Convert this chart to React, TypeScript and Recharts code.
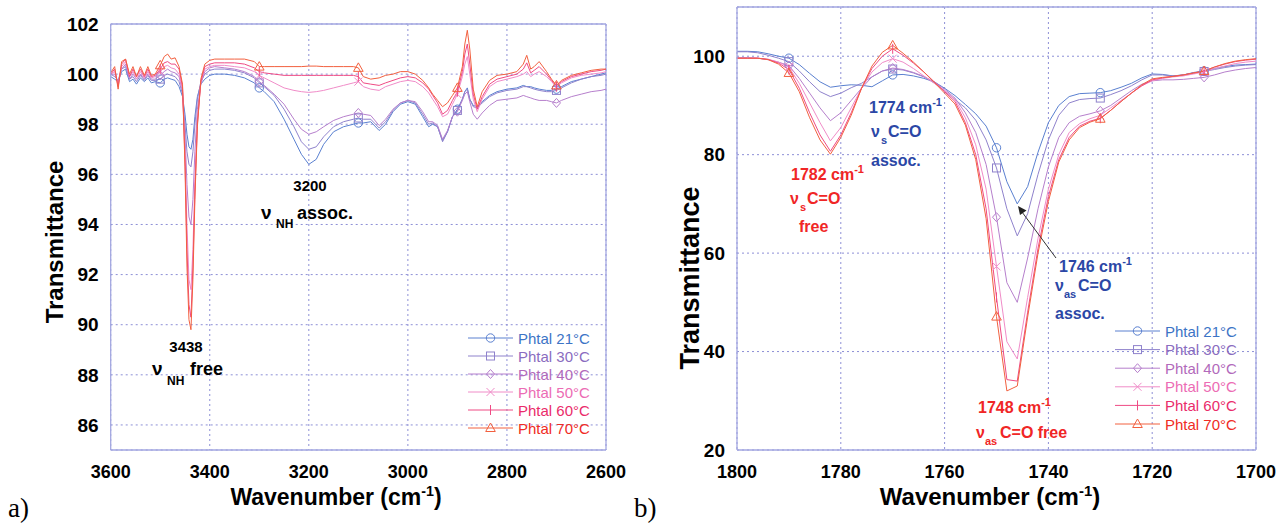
import React from 'react';
import { LineChart, Line, XAxis, YAxis, CartesianGrid, ReferenceLine } from 'recharts';

const FONT = '"Liberation Sans", Arial, Helvetica, sans-serif';
const FRAME = '#a3a7e0';
const GRID = '#8d8fd6';

const seriesKeys = ['s21', 's30', 's40', 's50', 's60', 's70'];
const seriesNames = ['Phtal 21°C', 'Phtal 30°C', 'Phtal 40°C', 'Phtal 50°C', 'Phtal 60°C', 'Phtal 70°C'];
const lineColors = ['#5a80d0', '#8f82cc', '#b67fcc', '#f08cc8', '#ef4a84', '#f2603f'];
const textColors = ['#3c74c6', '#8a6cc0', '#b26abb', '#ec6cb4', '#ea2c6a', '#f02c24'];
const markerShapes = ['circle', 'square', 'diamond', 'cross', 'bar', 'triangle'];

// N-H stretching region (panel a)
const nhWavenumbers = [3600, 3592, 3585, 3578, 3570, 3562, 3555, 3548, 3540, 3532, 3525, 3518, 3510, 3500, 3492, 3485, 3478, 3470, 3462, 3455, 3450, 3446, 3442, 3438, 3434, 3430, 3425, 3418, 3410, 3400, 3390, 3370, 3350, 3330, 3310, 3300, 3290, 3270, 3250, 3230, 3215, 3200, 3185, 3170, 3150, 3130, 3110, 3100, 3090, 3075, 3058, 3045, 3030, 3015, 3000, 2985, 2970, 2958, 2950, 2940, 2930, 2920, 2910, 2900, 2890, 2885, 2880, 2875, 2868, 2860, 2850, 2835, 2820, 2800, 2780, 2767, 2760, 2752, 2745, 2735, 2720, 2710, 2700, 2690, 2670, 2650, 2630, 2610, 2600];
const nh21 = [99.9, 99.8, 99.7, 100.1, 100.2, 99.7, 99.8, 99.6, 99.85, 99.7, 99.85, 99.65, 99.7, 99.65, 99.8, 99.85, 99.8, 99.75, 99.5, 99.1, 98.4, 97.6, 97.1, 97.0, 97.4, 98.3, 99.1, 99.6, 99.8, 99.95, 100.0, 100.0, 99.95, 99.85, 99.65, 99.45, 99.3, 98.9, 98.2, 97.4, 96.8, 96.4, 96.6, 97.2, 97.7, 97.9, 98.0, 98.05, 98.05, 98.1, 97.75, 98.0, 98.5, 98.8, 98.9, 98.8, 98.3, 97.9, 98.0, 97.9, 97.35, 97.7, 98.3, 98.6, 99.0, 99.3, 99.45, 99.0, 98.75, 98.7, 98.9, 99.15, 99.3, 99.4, 99.45, 99.55, 99.5, 99.5, 99.45, 99.4, 99.35, 99.35, 99.4, 99.5, 99.7, 99.8, 99.9, 100.0, 100.05];
const nh30 = [100.0, 99.9, 99.75, 100.2, 100.3, 99.8, 99.9, 99.7, 99.95, 99.75, 99.95, 99.75, 99.75, 99.8, 99.95, 100.0, 99.95, 99.9, 99.7, 99.2, 98.0, 96.9, 96.4, 96.3, 96.9, 98.0, 99.0, 99.7, 100.0, 100.15, 100.2, 100.2, 100.15, 100.05, 99.85, 99.65, 99.5, 99.15, 98.6, 97.9, 97.3, 97.0, 97.1, 97.5, 97.9, 98.1, 98.2, 98.25, 98.2, 98.2, 97.85, 98.1, 98.55, 98.85, 98.95, 98.85, 98.4, 98.0, 98.05, 97.9, 97.3, 97.7, 98.3, 98.55, 99.0, 99.3, 99.4, 99.0, 98.7, 98.65, 98.85, 99.1, 99.25, 99.35, 99.4, 99.5, 99.5, 99.45, 99.4, 99.35, 99.3, 99.3, 99.35, 99.45, 99.65, 99.8, 99.9, 99.95, 100.0];
const nh40 = [100.0, 100.0, 99.7, 100.2, 100.4, 99.8, 100.0, 99.8, 100.0, 99.8, 100.0, 99.8, 99.8, 99.95, 100.1, 100.2, 100.1, 100.05, 99.9, 99.3, 97.6, 95.6, 94.3, 94.0, 95.0, 96.9, 98.6, 99.6, 100.1, 100.25, 100.3, 100.25, 100.2, 100.1, 99.9, 99.7, 99.55, 99.2, 98.8, 98.2, 97.8, 97.6, 97.7, 97.9, 98.15, 98.3, 98.4, 98.45, 98.4, 98.35, 97.95, 98.2, 98.6, 98.85, 98.95, 98.9, 98.5, 98.1, 98.1, 97.95, 97.4, 97.75, 98.3, 98.5, 98.95, 99.2, 99.3, 98.9, 98.4, 98.2, 98.45, 98.75, 98.95, 99.0, 99.05, 99.15, 99.1, 99.05, 99.0, 98.95, 98.95, 98.9, 98.85, 98.95, 99.1, 99.2, 99.3, 99.35, 99.4];
const nh50 = [100.0, 100.1, 99.6, 100.3, 100.5, 99.9, 100.1, 99.8, 100.1, 99.85, 100.1, 99.85, 99.9, 100.1, 100.3, 100.35, 100.25, 100.2, 100.0, 99.4, 97.0, 94.0, 91.8, 91.4, 93.0, 95.8, 98.2, 99.7, 100.2, 100.3, 100.35, 100.35, 100.3, 100.25, 100.1, 99.95, 99.85, 99.65, 99.45, 99.35, 99.3, 99.27, 99.3, 99.35, 99.45, 99.55, 99.65, 99.7, 99.5, 99.4, 99.35, 99.5, 99.6, 99.7, 99.75, 99.7, 99.5, 99.25, 99.0, 98.7, 98.3, 98.4, 98.8, 99.2, 99.9, 100.4, 100.7, 100.0, 99.0, 98.5, 99.0, 99.5, 99.7, 99.8, 99.9, 100.0, 100.1, 99.9, 100.0, 100.1, 99.9, 99.7, 99.5, 99.65, 99.85, 99.95, 100.0, 100.05, 100.1];
const nh60 = [100.0, 100.2, 99.5, 100.4, 100.6, 99.9, 100.2, 99.9, 100.2, 99.9, 100.2, 99.9, 99.95, 100.2, 100.45, 100.5, 100.4, 100.4, 100.2, 99.5, 96.6, 93.0, 90.8, 90.3, 92.3, 95.3, 98.0, 99.7, 100.3, 100.4, 100.45, 100.45, 100.45, 100.4, 100.25, 100.1, 100.05, 100.0, 99.95, 99.95, 99.95, 99.95, 99.95, 99.95, 99.95, 99.95, 99.95, 99.9, 99.65, 99.6, 99.55, 99.65, 99.75, 99.85, 99.9, 99.85, 99.65, 99.4, 99.15, 98.85, 98.4, 98.55, 98.95, 99.3, 100.1, 100.8, 101.2, 100.4, 99.2, 98.6, 99.1, 99.6, 99.8, 99.9, 100.0, 100.2, 100.45, 100.05, 100.15, 100.3, 100.0, 99.75, 99.5, 99.7, 99.9, 100.0, 100.1, 100.15, 100.2];
const nh70 = [100.05, 100.3, 99.4, 100.5, 100.6, 100.0, 100.3, 99.9, 100.3, 99.95, 100.3, 99.95, 100.0, 100.35, 100.7, 100.8, 100.6, 100.65, 100.3, 99.6, 96.3, 92.3, 90.2, 89.8, 91.8, 95.0, 97.9, 99.8, 100.4, 100.55, 100.6, 100.6, 100.6, 100.6, 100.5, 100.3, 100.3, 100.3, 100.3, 100.3, 100.3, 100.32, 100.32, 100.3, 100.3, 100.3, 100.3, 100.25, 99.9, 99.8, 99.85, 99.95, 100.0, 100.1, 100.1, 100.0, 99.75, 99.45, 99.2, 98.95, 98.7, 98.85, 99.15, 99.45, 100.3, 101.2, 101.75, 101.0, 99.4, 98.7, 99.3, 99.75, 99.95, 100.0, 100.1, 100.4, 100.75, 100.2, 100.3, 100.5, 100.1, 99.8, 99.55, 99.75, 99.95, 100.05, 100.15, 100.2, 100.2];
const nhTicksX = [3600, 3400, 3200, 3000, 2800, 2600];
const nhTicksY = [86, 88, 90, 92, 94, 96, 98, 100, 102];
const nhMarkerPositions = [3500, 3300, 3100, 2900, 2700];

// C=O stretching region (panel b)
const coWavenumbers = [1800, 1798, 1796, 1794, 1792, 1790, 1788, 1786, 1784, 1782, 1780, 1778, 1776, 1774, 1772, 1770, 1768, 1766, 1764, 1762, 1760, 1758, 1756, 1754, 1752, 1750, 1748, 1746, 1744, 1742, 1740, 1738, 1736, 1734, 1732, 1730, 1728, 1726, 1724, 1722, 1720, 1718, 1716, 1714, 1712, 1710, 1708, 1706, 1704, 1702, 1700];
const co21 = [101.0, 101.0, 100.9, 100.5, 100.0, 99.6, 98.3, 96.5, 94.8, 93.7, 94.0, 94.2, 94.1, 93.8, 95.0, 96.2, 96.3, 96.0, 95.5, 94.8, 93.5, 92.0, 90.2, 88.3, 85.8, 81.4, 74.5, 70.0, 73.5, 80.5, 86.5, 90.0, 91.8, 92.4, 92.5, 92.6, 93.0, 93.7, 94.5, 95.6, 96.4, 96.3, 96.0, 96.2, 96.7, 97.0, 97.5, 97.9, 98.2, 98.3, 98.4];
const co30 = [100.9, 100.9, 100.7, 100.2, 99.6, 98.9, 97.0, 94.8, 92.8, 91.8, 92.5, 93.6, 94.5, 95.8, 97.0, 97.4, 97.2, 96.6, 95.8, 94.6, 93.0, 91.2, 89.5, 87.0, 83.0, 77.3, 69.0, 63.5, 68.0, 76.0, 83.0, 88.0, 90.5, 91.2, 91.4, 91.5, 92.2, 93.0, 94.0, 95.2, 96.2, 96.2, 96.0, 96.2, 96.6, 96.9, 97.3, 97.7, 98.0, 98.2, 98.3];
const co40 = [99.7, 99.7, 99.6, 99.3, 98.8, 98.1, 95.5, 92.5, 89.5, 86.9, 88.5, 91.0, 93.5, 95.8, 97.0, 97.6, 97.3, 96.7, 95.9, 94.8, 93.3, 91.5, 88.5, 84.5, 78.0, 67.3, 54.0, 50.0, 59.0, 69.0, 77.5, 83.5, 86.5, 87.8, 88.3, 88.9, 90.0, 91.5, 93.0, 94.3, 95.0, 95.2, 95.2, 95.3, 95.5, 95.7, 96.2, 96.8, 97.2, 97.5, 97.7];
const co50 = [99.6, 99.6, 99.6, 99.4, 98.8, 97.8, 94.5, 90.5, 86.5, 82.8, 85.5, 89.5, 93.5, 96.8, 98.7, 99.5, 98.8, 97.5, 96.0, 94.5, 93.0, 91.2, 87.5, 82.0, 73.0, 57.3, 42.0, 38.5, 51.0, 63.0, 73.0, 80.0, 84.5, 86.3, 87.3, 88.0, 89.5, 91.0, 92.5, 94.0, 95.0, 95.5, 95.8, 96.0, 96.4, 96.8, 97.5, 98.0, 98.5, 98.8, 99.0];
const co60 = [99.6, 99.6, 99.6, 99.35, 98.6, 97.3, 93.5, 88.5, 84.0, 80.7, 84.0, 88.5, 93.5, 97.5, 100.0, 101.5, 100.2, 98.6, 96.8, 94.8, 92.8, 90.8, 86.5, 80.0, 69.0, 51.0, 34.3, 34.0, 48.0, 61.0, 71.5, 79.0, 83.5, 85.8, 86.8, 87.4, 89.0, 90.8, 92.5, 94.0, 95.2, 95.6, 95.9, 96.2, 96.6, 97.0, 97.8, 98.4, 98.9, 99.2, 99.4];
const co70 = [99.6, 99.6, 99.6, 99.3, 98.4, 96.6, 92.8, 87.5, 83.0, 80.1, 83.5, 88.0, 93.5, 98.0, 100.8, 102.2, 100.6, 98.8, 96.8, 94.7, 92.5, 90.3, 86.0, 79.0, 67.0, 47.1, 32.0, 33.0, 47.0, 60.0, 70.5, 78.5, 83.0, 85.5, 86.6, 87.3, 89.0, 90.8, 92.5, 94.2, 95.4, 95.7, 95.9, 96.2, 96.6, 97.0, 97.8, 98.5, 99.0, 99.3, 99.5];
const coTicksX = [1800, 1780, 1760, 1740, 1720, 1700];
const coTicksY = [20, 40, 60, 80, 100];
const coMarkerPositions = [1790, 1770, 1750, 1730, 1710];

type Row = { w: number; [k: string]: number };

function buildRows(wavenumbers: number[], cols: number[][]): Row[] {
  return wavenumbers.map((w, i) => {
    const r: Row = { w };
    seriesKeys.forEach((k, j) => {
      r[k] = cols[j][i];
    });
    return r;
  });
}

const nhRows = buildRows(nhWavenumbers, [nh21, nh30, nh40, nh50, nh60, nh70]);
const coRows = buildRows(coWavenumbers, [co21, co30, co40, co50, co60, co70]);

function Marker({ shape, x, y, color }: { shape: string; x: number; y: number; color: string }) {
  const p = { fill: 'none', stroke: color, strokeWidth: 1 };
  switch (shape) {
    case 'circle':
      return <circle cx={x} cy={y} r={4.2} {...p} />;
    case 'square':
      return <rect x={x - 4} y={y - 4} width={8} height={8} {...p} />;
    case 'diamond':
      return <path d={`M${x},${y - 4.5}L${x + 4},${y}L${x},${y + 4.5}L${x - 4},${y}Z`} {...p} />;
    case 'cross':
      return <path d={`M${x - 4},${y - 4}L${x + 4},${y + 4}M${x - 4},${y + 4}L${x + 4},${y - 4}`} {...p} />;
    case 'bar':
      return <path d={`M${x},${y - 5}L${x},${y + 5}`} {...p} />;
    default:
      return <path d={`M${x},${y - 5}L${x + 4.8},${y + 3.5}L${x - 4.8},${y + 3.5}Z`} {...p} />;
  }
}

function makeDot(positions: number[], shape: string, color: string) {
  return (props: any) => {
    const { cx, cy, payload, index } = props;
    if (cx == null || cy == null || !payload || !positions.includes(payload.w)) {
      return <g key={`e${index}`} />;
    }
    return (
      <g key={`m${index}`}>
        <Marker shape={shape} x={cx} y={cy} color={color} />
      </g>
    );
  };
}

const tickStyle = { fontSize: 18, fontWeight: 700, fill: '#000', fontFamily: FONT };
const yTickStyle = { fontSize: 19, fontWeight: 700, fill: '#000', fontFamily: FONT };

type PanelProps = {
  rows: Row[];
  xDomain: [number, number];
  xTicks: number[];
  yDomain: [number, number];
  yTicks: number[];
  markers: number[];
  left: number;
  width: number;
  margin: { top: number; right: number; bottom: number; left: number };
};

function Panel({ rows, xDomain, xTicks, yDomain, yTicks, markers, left, width, margin }: PanelProps) {
  return (
    <div style={{ position: 'absolute', left, top: 0 }}>
      <LineChart width={width} height={523} data={rows} margin={margin}>
        <CartesianGrid stroke={GRID} strokeDasharray="2 3" strokeWidth={1} />
        <XAxis
          dataKey="w"
          type="number"
          domain={xDomain}
          reversed
          ticks={xTicks}
          interval={0}
          allowDataOverflow
          height={30}
          tickLine={false}
          tickSize={0}
          tickMargin={15}
          tick={tickStyle}
          axisLine={{ stroke: FRAME, strokeWidth: 1.3 }}
        />
        <YAxis
          type="number"
          domain={yDomain}
          ticks={yTicks}
          interval={0}
          allowDataOverflow
          width={60}
          tickLine={false}
          tickSize={0}
          tickMargin={12}
          tick={yTickStyle}
          axisLine={{ stroke: FRAME, strokeWidth: 1.3 }}
        />
        <ReferenceLine x={xDomain[0]} stroke={FRAME} strokeWidth={1.3} />
        <ReferenceLine y={yDomain[1]} stroke={FRAME} strokeWidth={1.3} />
        {seriesKeys.map((k, i) => (
          <Line
            key={k}
            dataKey={k}
            type="linear"
            stroke={lineColors[i]}
            strokeWidth={1}
            dot={makeDot(markers, markerShapes[i], lineColors[i])}
            activeDot={false}
            isAnimationActive={false}
          />
        ))}
      </LineChart>
    </div>
  );
}

function LegendBlock({ x, y, step }: { x: number; y: number; step: number }) {
  return (
    <g>
      {seriesNames.map((name, i) => {
        const cy = y + i * step;
        return (
          <g key={name}>
            <line x1={x} x2={x + 45} y1={cy} y2={cy} stroke={lineColors[i]} strokeWidth={1} />
            <Marker shape={markerShapes[i]} x={x + 22.5} y={cy} color={lineColors[i]} />
            <text x={x + 50} y={cy + 5.5} fontSize={15} fill={textColors[i]} fontFamily={FONT}>
              {name}
            </text>
          </g>
        );
      })}
    </g>
  );
}

function AxisTitle({ x, y, size }: { x: number; y: number; size: number }) {
  return (
    <text x={x} y={y} textAnchor="middle" fontSize={size} fontWeight={700} fontFamily={FONT} fill="#000">
      Wavenumber (cm
      <tspan dy={-9} fontSize={size * 0.62}>-1</tspan>
      <tspan dy={9}>)</tspan>
    </text>
  );
}

function YTitle({ x, y, size }: { x: number; y: number; size: number }) {
  return (
    <text
      x={x}
      y={y}
      textAnchor="middle"
      fontSize={size}
      fontWeight={700}
      fontFamily={FONT}
      fill="#000"
      transform={`rotate(-90 ${x} ${y})`}
    >
      Transmittance
    </text>
  );
}

const BLUE = '#2b47a6';
const RED = '#f02626';

function Annotations() {
  const b = { fontWeight: 700, fontFamily: FONT } as const;
  return (
    <g>
      {/* panel a */}
      <text x={310} y={191} textAnchor="middle" fontSize={15} fill="#000" {...b}>3200</text>
      <text fill="#000" {...b}>
        <tspan x={261} y={219} fontSize={19}>ν</tspan>
        <tspan x={276} y={228} fontSize={12}>NH</tspan>
        <tspan x={297} y={219} fontSize={18}>assoc.</tspan>
      </text>
      <text x={186} y={352} textAnchor="middle" fontSize={15} fill="#000" {...b}>3438</text>
      <text fill="#000" {...b}>
        <tspan x={152} y={375} fontSize={19}>ν</tspan>
        <tspan x={167} y={385} fontSize={12}>NH</tspan>
        <tspan x={190} y={375} fontSize={18}>free</tspan>
      </text>

      {/* panel b */}
      <text x={869} y={113} fontSize={16} fill={BLUE} {...b}>
        1774 cm<tspan dy={-7} fontSize={11}>-1</tspan>
      </text>
      <text fill={BLUE} {...b}>
        <tspan x={871} y={137} fontSize={16}>ν</tspan>
        <tspan x={881} y={144} fontSize={11}>s</tspan>
        <tspan x={888} y={137} fontSize={16}>C=O</tspan>
      </text>
      <text x={871} y={166} fontSize={16} fill={BLUE} {...b}>assoc.</text>

      <text x={791} y={180} fontSize={16} fill={RED} {...b}>
        1782 cm<tspan dy={-7} fontSize={11}>-1</tspan>
      </text>
      <text fill={RED} {...b}>
        <tspan x={790} y={204} fontSize={16}>ν</tspan>
        <tspan x={800} y={211} fontSize={11}>s</tspan>
        <tspan x={807} y={204} fontSize={16}>C=O</tspan>
      </text>
      <text x={799} y={232} fontSize={16} fill={RED} {...b}>free</text>

      <text x={1059} y={272} fontSize={16} fill={BLUE} {...b}>
        1746 cm<tspan dy={-7} fontSize={11}>-1</tspan>
      </text>
      <text fill={BLUE} {...b}>
        <tspan x={1055} y={291} fontSize={16}>ν</tspan>
        <tspan x={1064} y={298} fontSize={11}>as</tspan>
        <tspan x={1078} y={291} fontSize={16}>C=O</tspan>
      </text>
      <text x={1055} y={319} fontSize={16} fill={BLUE} {...b}>assoc.</text>

      <text x={978} y={413} fontSize={16} fill={RED} {...b}>
        1748 cm<tspan dy={-7} fontSize={11}>-1</tspan>
      </text>
      <text fill={RED} {...b}>
        <tspan x={976} y={438} fontSize={16}>ν</tspan>
        <tspan x={985} y={445} fontSize={11}>as</tspan>
        <tspan x={1000} y={438} fontSize={16}>C=O free</tspan>
      </text>

      <line x1={1056} y1={258} x2={1022} y2={212} stroke="#333" strokeWidth={1} />
      <path d="M1018,206 L1026.5,210.5 L1020,215 Z" fill="#222" />
    </g>
  );
}

export default function App() {
  return (
    <div
      style={{
        position: 'absolute',
        left: 0,
        top: 0,
        width: 1281,
        height: 523,
        background: '#fff',
        overflow: 'hidden',
        fontFamily: FONT,
      }}
    >
      <Panel
        rows={nhRows}
        xDomain={[2600, 3600]}
        xTicks={nhTicksX}
        yDomain={[85, 102]}
        yTicks={nhTicksY}
        markers={nhMarkerPositions}
        left={0}
        width={630}
        margin={{ top: 24, right: 24, bottom: 43, left: 50.7 }}
      />
      <Panel
        rows={coRows}
        xDomain={[1700, 1800]}
        xTicks={coTicksX}
        yDomain={[20, 110]}
        yTicks={coTicksY}
        markers={coMarkerPositions}
        left={630}
        width={651}
        margin={{ top: 7, right: 25, bottom: 43, left: 47 }}
      />
      <svg
        width={1281}
        height={523}
        style={{ position: 'absolute', left: 0, top: 0, pointerEvents: 'none' }}
      >
        <LegendBlock x={468} y={338} step={18} />
        <LegendBlock x={1115} y={331} step={18.6} />
        <AxisTitle x={336} y={505} size={23} />
        <AxisTitle x={990} y={505} size={24} />
        <YTitle x={63} y={242} size={24} />
        <YTitle x={699} y={278} size={27} />
        <Annotations />
        <text x={8} y={517} fontSize={27} fontFamily='"Liberation Serif", "Times New Roman", serif' fill="#000">a)</text>
        <text x={634} y={517} fontSize={27} fontFamily='"Liberation Serif", "Times New Roman", serif' fill="#000">b)</text>
      </svg>
    </div>
  );
}
